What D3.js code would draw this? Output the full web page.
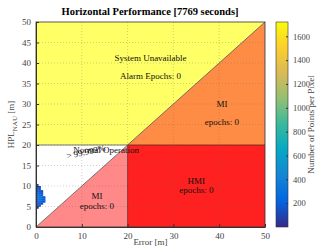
<!DOCTYPE html>
<html>
<head>
<meta charset="utf-8">
<script src="https://cdn.jsdelivr.net/npm/d3@7/dist/d3.min.js"></script>
<style>
  body { margin: 0; background: #fff; }
  svg text { font-family: "Liberation Serif", "DejaVu Serif", serif; }
</style>
</head>
<body>
<div id="chart"></div>
<script>
// axis ticks
var xTicks = [0, 10, 20, 30, 40, 50];
var yTicks = [0, 5, 10, 15, 20, 25, 30, 35, 40, 45, 50];
var cbTicks = [200, 400, 600, 800, 1000, 1200, 1400, 1600];
var alarmLimit = 20;
var cbMax = 1720;

// 2D histogram of the epochs (0.5 m bins): error bin, hpl bin, count
var errBin = [0, 0, 0, 0, 0, 0, 0, 0, 0, 0, 0, 0,
              0.5, 0.5, 0.5, 0.5, 0.5, 0.5, 0.5, 0.5, 0.5, 0.5,
              1.0, 1.0, 1.0, 1.0, 1.0, 1.0, 1.0,
              1.5, 1.5, 1.5];
var hplBin = [4.5, 5, 5.5, 6, 6.5, 7, 7.5, 8, 8.5, 9, 9.5, 10,
              5, 5.5, 6, 6.5, 7, 7.5, 8, 8.5, 9, 9.5,
              5.5, 6, 6.5, 7, 7.5, 8, 8.5,
              6, 6.5, 7];
var counts = [120, 150, 180, 200, 220, 230, 220, 200, 180, 160, 140, 120,
              140, 180, 220, 260, 280, 260, 220, 190, 160, 130,
              140, 180, 240, 260, 210, 170, 140,
              160, 200, 170];

var W = 320, H = 250;
var m = {left: 36, top: 22, right: 55, bottom: 23};
var pw = 265 - m.left, ph = 227 - m.top;

var svg = d3.select('#chart').append('svg').attr('width', W).attr('height', H);

var x = d3.scaleLinear().domain([0, 50]).range([m.left, m.left + pw]);
var y = d3.scaleLinear().domain([0, 50]).range([m.top + ph, m.top]);

// parula-like colour map
var parula = ['#352a87', '#0363e1', '#1485d4', '#06a7c6', '#38b99e',
              '#92bf73', '#d9ba56', '#fcce2e', '#f9fb0e'];
var color = d3.scaleLinear()
    .domain(d3.range(parula.length).map(function(i) { return i * cbMax / (parula.length - 1); }))
    .range(parula);

// Stanford-style regions
var regions = [
    {fill: '#ffff66', pts: [[0, 20], [20, 20], [50, 50], [0, 50]]},
    {fill: '#ff8c45', pts: [[20, 20], [50, 20], [50, 50]]},
    {fill: '#ff2020', pts: [[20, 0], [50, 0], [50, 20], [20, 20]]},
    {fill: '#ff8888', pts: [[0, 0], [20, 0], [20, 20]]},
    {fill: '#ffffff', pts: [[0, 0], [20, 20], [0, 20]]}
];
var line = d3.line().x(function(d) { return x(d[0]); }).y(function(d) { return y(d[1]); });
svg.append('g').selectAll('path').data(regions).enter().append('path')
    .attr('d', function(d) { return line(d.pts) + 'Z'; })
    .attr('fill', function(d) { return d.fill; });

// boundaries
svg.append('path').attr('d', line([[0, 0], [50, 50]]))
    .attr('stroke', '#555').attr('stroke-width', 0.8).attr('fill', 'none');
svg.append('path').attr('d', line([[20, 0], [20, alarmLimit], [50, alarmLimit]]))
    .attr('stroke', '#6a2020').attr('stroke-width', 0.8).attr('fill', 'none');
svg.append('path').attr('d', line([[0, alarmLimit], [20, alarmLimit]]))
    .attr('stroke', '#555').attr('stroke-width', 0.8).attr('fill', 'none');

// histogram pixels
var cells = counts.map(function(c, i) { return {e: errBin[i], h: hplBin[i], c: c}; });
svg.append('g').selectAll('rect').data(cells).enter().append('rect')
    .attr('x', function(d) { return x(d.e); })
    .attr('y', function(d) { return y(d.h + 0.5); })
    .attr('width', x(0.5) - x(0) + 0.3)
    .attr('height', y(0) - y(0.5) + 0.3)
    .attr('fill', function(d) { return color(d.c); });

// grid
var grid = svg.append('g').attr('stroke', '#666').attr('stroke-width', 0.5)
    .attr('stroke-dasharray', '1,2').attr('opacity', 0.6);
grid.selectAll('.gx').data(xTicks.slice(1, -1)).enter().append('line')
    .attr('x1', x).attr('x2', x).attr('y1', y(0)).attr('y2', y(50));
grid.selectAll('.gy').data(yTicks.slice(1, -1)).enter().append('line')
    .attr('y1', y).attr('y2', y).attr('x1', x(0)).attr('x2', x(50));

// axes
var xAxis = svg.append('g').attr('transform', 'translate(0,' + y(0) + ')')
    .call(d3.axisBottom(x).tickValues(xTicks).tickSizeInner(-3).tickSizeOuter(0).tickPadding(6));
var yAxis = svg.append('g').attr('transform', 'translate(' + x(0) + ',0)')
    .call(d3.axisLeft(y).tickValues(yTicks).tickSizeInner(-3).tickSizeOuter(0).tickPadding(5));
[xAxis, yAxis].forEach(function(a) {
    a.selectAll('text').attr('font-family', '"Liberation Serif", serif').attr('font-size', 9).attr('fill', '#444');
    a.selectAll('line').attr('stroke', '#333');
    a.select('.domain').attr('stroke', '#333');
});
svg.append('rect').attr('x', x(0)).attr('y', y(50)).attr('width', pw).attr('height', ph)
    .attr('fill', 'none').attr('stroke', '#333').attr('stroke-width', 0.8);

// region labels
var labels = [
    {t: 'System Unavailable', x: 25, y: 41},
    {t: 'Alarm Epochs: 0', x: 25, y: 36.6},
    {t: 'MI', x: 40.6, y: 29.8},
    {t: 'epochs: 0', x: 40.6, y: 25.5},
    {t: 'Normal Operation', x: 15.3, y: 18.6},
    {t: 'MI', x: 13.3, y: 7.3},
    {t: 'epochs: 0', x: 13.3, y: 5},
    {t: 'HMI', x: 35, y: 11},
    {t: 'epochs: 0', x: 35, y: 8.8}
];
svg.append('g').selectAll('text').data(labels).enter().append('text')
    .attr('x', function(d) { return x(d.x); })
    .attr('y', function(d) { return y(d.y); })
    .attr('text-anchor', 'middle').attr('dominant-baseline', 'middle')
    .attr('font-size', 9).attr('fill', '#111')
    .text(function(d) { return d.t; });
svg.append('text')
    .attr('transform', 'translate(' + x(6.8) + ',' + y(16.6) + ') rotate(-12)')
    .attr('font-size', 9).attr('fill', '#111')
    .text('> 99.999%');

// title and axis labels
svg.append('text').attr('x', 150).attr('y', 15).attr('text-anchor', 'middle')
    .attr('font-size', 10.5).attr('font-weight', 'bold').text('Horizontal Performance [7769 seconds]');
svg.append('text').attr('x', x(25)).attr('y', 245).attr('text-anchor', 'middle')
    .attr('font-size', 9).attr('fill', '#444').text('Error [m]');
var yl = svg.append('text').attr('transform', 'translate(14,' + (m.top + ph / 2) + ') rotate(-90)')
    .attr('text-anchor', 'middle').attr('font-size', 9).attr('fill', '#444');
yl.append('tspan').text('HPL');
yl.append('tspan').attr('font-size', 7).attr('dy', 2.5).text('NAU');
yl.append('tspan').attr('dy', -2.5).text(' [m]');

// colour bar
var cbX = 276, cbW = 12;
var cy = d3.scaleLinear().domain([0, cbMax]).range([m.top + ph, m.top]);
var defs = svg.append('defs');
var grad = defs.append('linearGradient').attr('id', 'cb')
    .attr('x1', 0).attr('y1', 1).attr('x2', 0).attr('y2', 0);
grad.selectAll('stop').data(parula).enter().append('stop')
    .attr('offset', function(d, i) { return i / (parula.length - 1); })
    .attr('stop-color', function(d) { return d; });
svg.append('rect').attr('x', cbX).attr('y', m.top).attr('width', cbW).attr('height', ph)
    .attr('fill', 'url(#cb)').attr('stroke', '#333').attr('stroke-width', 0.6);
var cbAxis = svg.append('g').attr('transform', 'translate(' + (cbX + cbW) + ',0)')
    .call(d3.axisRight(cy).tickValues(cbTicks).tickFormat(d3.format('d'))
        .tickSizeInner(-2).tickSizeOuter(0).tickPadding(5));
cbAxis.select('.domain').remove();
cbAxis.selectAll('line').attr('stroke', '#333');
cbAxis.selectAll('text').attr('font-family', '"Liberation Serif", serif').attr('font-size', 8.5).attr('fill', '#444');
svg.append('text').attr('transform', 'translate(314,' + (m.top + ph / 2) + ') rotate(-90)')
    .attr('text-anchor', 'middle').attr('font-size', 9).attr('fill', '#444')
    .text('Number of Points per Pixel');
</script>
</body>
</html>
